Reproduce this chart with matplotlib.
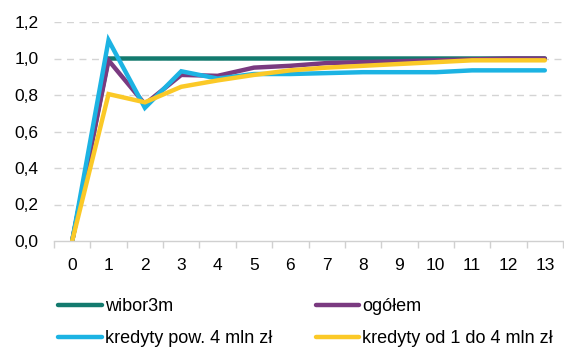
import matplotlib
matplotlib.use("Agg")
import matplotlib.pyplot as plt
import numpy as np

plt.rcParams['font.family'] = ['Liberation Sans', 'DejaVu Sans']

months = list(range(14))
tick_labels = [str(m) for m in months]

wibor3m = [0.0, 1.0, 1.0, 1.0, 1.0, 1.0, 1.0, 1.0, 1.0, 1.0, 1.0, 1.0, 1.0, 1.0]
ogolem = [0.0, 0.99, 0.75, 0.91, 0.905, 0.95, 0.96, 0.975, 0.98, 0.985, 0.99, 0.995, 1.0, 1.0]
pow_4mln = [0.0, 1.10, 0.73, 0.93, 0.89, 0.915, 0.915, 0.92, 0.925, 0.925, 0.925, 0.935, 0.935, 0.935]
od_1_do_4 = [0.0, 0.805, 0.76, 0.845, 0.88, 0.91, 0.935, 0.95, 0.96, 0.97, 0.98, 0.99, 0.99, 0.99]

series = [
    ("wibor3m", wibor3m, "#137a6e"),
    ("ogółem", ogolem, "#7a3a80"),
    ("kredyty pow. 4 mln zł", pow_4mln, "#1cb3e3"),
    ("kredyty od 1 do 4 mln zł", od_1_do_4, "#fbc927"),
]

fig = plt.figure(figsize=(5.64, 3.47), dpi=100)
ax = fig.add_axes([54 / 564, 1 - 241 / 347, 509 / 564, (241 - 22) / 347])

handles = {}
for name, vals, col in series:
    (ln,) = ax.plot(months, vals, color=col, lw=3.2, label=name,
                    solid_capstyle='round', solid_joinstyle='miter')
    handles[name] = ln

ax.set_xlim(-0.5, 13.5)
ax.set_ylim(0, 1.2)
yt = np.arange(0, 1.21, 0.2)
ax.set_yticks(yt)
ax.set_yticklabels([f"{v:.1f}".replace('.', ',') for v in yt])
ax.set_xticks(months)
ax.set_xticklabels(tick_labels)
ax.set_xticks(np.arange(-0.5, 13.6, 1), minor=True)
ax.tick_params(axis='x', which='major', length=0, pad=12, labelsize=12.5, colors='#000000')
ax.tick_params(axis='x', which='minor', length=5, color='#d0d0d0', width=1)
ax.tick_params(axis='y', length=0, pad=11, labelsize=12.5)

for v in yt[1:]:
    ax.axhline(v, color='#d4d4d4', lw=1, ls=(0, (5, 4)), zorder=0)

for s in ['top', 'right', 'left']:
    ax.spines[s].set_visible(False)
ax.spines['bottom'].set_color('#d0d0d0')
ax.spines['bottom'].set_linewidth(1)

order = ["wibor3m", "kredyty pow. 4 mln zł", "ogółem", "kredyty od 1 do 4 mln zł"]
leg = fig.legend([handles[n] for n in order], order, ncol=2,
                 loc='upper left', bbox_to_anchor=(58 / 564, 1 - 298 / 347),
                 frameon=False, fontsize=13, handlelength=2.43, handletextpad=0.17,
                 columnspacing=2.4, labelspacing=0.85, borderpad=0, borderaxespad=0)
for lh in leg.get_lines():
    lh.set_linewidth(3.2)
    lh.set_solid_capstyle('round')

fig.savefig("out.png", dpi=100)
